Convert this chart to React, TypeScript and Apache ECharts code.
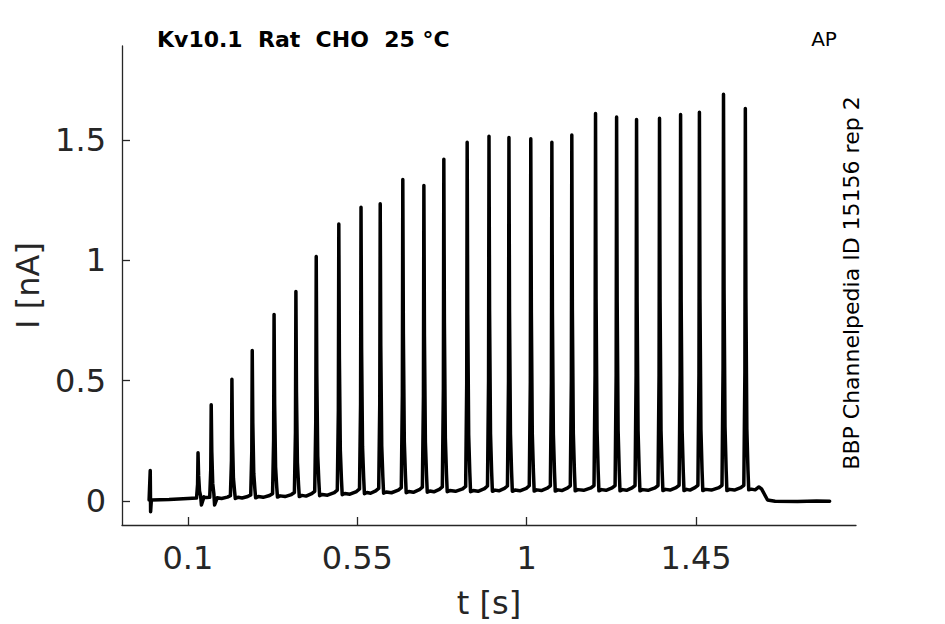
import React, { useEffect, useRef } from "react";
import * as echarts from "echarts";

// ---- data ----
const xTicks = [0.1, 0.55, 1, 1.45];
const yTicks = [0, 0.5, 1, 1.5];

const spikeTimes = [
  0.127, 0.162, 0.217, 0.271, 0.329, 0.387, 0.441, 0.501, 0.56, 0.611, 0.671,
  0.727, 0.78, 0.842, 0.9, 0.953, 1.011, 1.067, 1.12, 1.183, 1.239, 1.292,
  1.353, 1.409, 1.459, 1.523, 1.581,
];
const spikePeaks = [
  0.2, 0.4, 0.505, 0.625, 0.775, 0.87, 1.015, 1.15, 1.22, 1.235, 1.335, 1.31,
  1.42, 1.49, 1.515, 1.51, 1.505, 1.49, 1.52, 1.61, 1.595, 1.585, 1.59, 1.605,
  1.615, 1.69, 1.63,
];
// baseline just before each spike
const preSpikeLevel = [
  0.012, 0.015, 0.022, 0.025, 0.03, 0.035, 0.04, 0.045, 0.05, 0.052, 0.055,
  0.057, 0.058, 0.06, 0.062, 0.062, 0.063, 0.063, 0.063, 0.064, 0.064, 0.064,
  0.064, 0.065, 0.065, 0.065, 0.065,
];
// low baseline in the middle of the interval after each spike
const troughLevel = [
  0.014, 0.01, 0.012, 0.015, 0.018, 0.02, 0.024, 0.028, 0.032, 0.034, 0.036,
  0.038, 0.04, 0.04, 0.042, 0.042, 0.043, 0.043, 0.044, 0.044, 0.044, 0.044,
  0.045, 0.045, 0.045, 0.045, 0.046,
];
// lowest value right after each spike
const undershootLevel = [
  -0.017, -0.017, 0.01, 0.013, 0.016, 0.018, 0.022, 0.026, 0.03, 0.032, 0.034,
  0.036, 0.038, 0.038, 0.04, 0.04, 0.041, 0.041, 0.042, 0.042, 0.042, 0.042,
  0.043, 0.043, 0.043, 0.043, 0.046,
];
const onsetTrace = [
  [-0.003, 0.004],
  [0.0, 0.126],
  [0.001, -0.045],
  [0.003, 0.004],
  [0.05, 0.006],
  [0.1, 0.01],
];
const tailTrace = [
  [1.607, 0.046],
  [1.617, 0.058],
  [1.624, 0.05],
  [1.64, 0.004],
  [1.66, -0.001],
  [1.72, -0.002],
  [1.77, 0.0],
  [1.805, -0.001],
];
// spike waveform shape: time offsets and fraction of the peak height
const spikeShapeDt = [-0.004, -0.0012, 0, 0.0015, 0.004, 0.007];
const spikeShapeFrac = [0, 0.3, 1, 0.5, 0.15, 0.04];

const titleText = "Kv10.1  Rat  CHO  25 °C";
const protocolText = "AP";
const sideText = "BBP Channelpedia ID 15156 rep 2";

function buildTrace(): number[][] {
  const pts: number[][] = onsetTrace.map((p) => [p[0], p[1]]);
  for (let i = 0; i < spikeTimes.length; i++) {
    const t = spikeTimes[i];
    const base = preSpikeLevel[i];
    const peak = spikePeaks[i];
    for (let k = 0; k < spikeShapeDt.length; k++) {
      pts.push([t + spikeShapeDt[k], base + spikeShapeFrac[k] * (peak - base)]);
    }
    pts.push([t + 0.009, undershootLevel[i]]);
    pts.push([t + 0.016, troughLevel[i] + 0.003]);
    if (i < spikeTimes.length - 1) {
      const tn = spikeTimes[i + 1];
      pts.push([(t + tn) / 2, troughLevel[i]]);
      pts.push([tn - 0.012, (troughLevel[i] + preSpikeLevel[i + 1]) / 2]);
    }
  }
  tailTrace.forEach((p) => pts.push([p[0], p[1]]));
  pts.sort((a, b) => a[0] - b[0]);
  return pts;
}

const FONT = "DejaVu Sans";
const AX = "#262626";

export default function App() {
  const ref = useRef<HTMLDivElement>(null);
  useEffect(() => {
    if (!ref.current) return;
    const chart = echarts.init(ref.current, null, { renderer: "svg" });
    chart.setOption({
      animation: false,
      grid: { left: 122, right: 89, top: 46, bottom: 98 },
      xAxis: {
        type: "value",
        min: -0.075,
        max: 1.875,
        axisLine: { show: true, onZero: false, lineStyle: { color: AX, width: 1.3 } },
        axisTick: {
          show: true,
          inside: true,
          length: 8,
          customValues: xTicks,
          lineStyle: { color: AX, width: 1.3 },
        },
        axisLabel: {
          customValues: xTicks,
          fontSize: 32,
          fontFamily: FONT,
          color: AX,
          margin: 17,
          formatter: (v: number) => String(v),
        },
        splitLine: { show: false },
        name: "t [s]",
        nameLocation: "middle",
        nameGap: 62,
        nameTextStyle: { fontSize: 32, fontFamily: FONT, color: AX },
      },
      yAxis: {
        type: "value",
        min: -0.1,
        max: 1.89,
        axisLine: { show: true, onZero: false, lineStyle: { color: AX, width: 1.3 } },
        axisTick: {
          show: true,
          inside: true,
          length: 8,
          customValues: yTicks,
          lineStyle: { color: AX, width: 1.3 },
        },
        axisLabel: {
          customValues: yTicks,
          fontSize: 32,
          fontFamily: FONT,
          color: AX,
          margin: 16,
          formatter: (v: number) => String(v),
        },
        splitLine: { show: false },
        name: "I [nA]",
        nameLocation: "middle",
        nameGap: 76,
        nameRotate: 90,
        nameTextStyle: { fontSize: 32, fontFamily: FONT, color: AX },
      },
      series: [
        {
          type: "line",
          data: buildTrace(),
          showSymbol: false,
          symbol: "none",
          lineStyle: { color: "#000", width: 3.5, join: "round", cap: "round" },
          silent: true,
        },
      ],
      graphic: [
        {
          type: "text",
          x: 157,
          y: 39,
          style: {
            text: titleText,
            fontSize: 22,
            fontWeight: "bold",
            fontFamily: FONT,
            fill: "#000",
            align: "left",
            verticalAlign: "middle",
          },
        },
        {
          type: "text",
          x: 824,
          y: 39,
          style: {
            text: protocolText,
            fontSize: 20,
            fontFamily: FONT,
            fill: "#000",
            align: "center",
            verticalAlign: "middle",
          },
        },
        {
          type: "text",
          x: 851,
          y: 283,
          rotation: Math.PI / 2,
          style: {
            text: sideText,
            fontSize: 22,
            fontFamily: FONT,
            fill: "#000",
            align: "center",
            verticalAlign: "middle",
          },
        },
      ],
    });
    return () => chart.dispose();
  }, []);
  return (
    <div
      ref={ref}
      style={{ position: "absolute", left: 0, top: 0, width: 945, height: 624 }}
    />
  );
}
